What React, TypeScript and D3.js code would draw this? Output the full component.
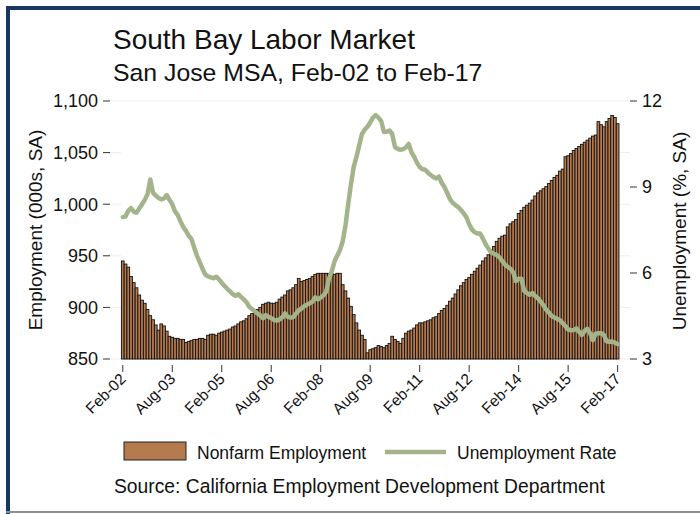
import React from 'react';
import * as d3 from 'd3';

const employment = [
  945, 942, 939, 930, 924, 919, 912, 907, 904, 898,
  892, 888, 883, 878, 884, 882, 877, 872, 871, 870,
  870, 869, 869, 866, 867, 868, 869, 869, 870, 870,
  869, 873, 874, 874, 873, 875, 876, 877, 878, 879,
  881, 882, 884, 886, 887, 889, 892, 894, 896, 898,
  900, 903, 904, 905, 904, 904, 905, 908, 910, 912,
  916, 917, 919, 922, 928, 925, 926, 927, 928, 930,
  932, 933, 933, 933, 933, 933, 933, 932, 933, 933,
  922, 916, 909, 901, 893, 885, 878, 873, 869, 856,
  859, 860, 861, 863, 862, 861, 863, 865, 872, 869,
  867, 865, 870, 875, 877, 878, 880, 883, 885, 885,
  886, 887, 888, 890, 891, 894, 897, 899, 902, 906,
  909, 913, 917, 921, 924, 927, 929, 932, 935, 938,
  941, 945, 948, 951, 956, 959, 964, 967, 969, 970,
  978, 981, 983, 985, 991, 994, 997, 999, 1001, 1004,
  1008, 1011, 1013, 1015, 1017, 1020, 1023, 1026, 1028, 1032,
  1034, 1046, 1047, 1049, 1052, 1054, 1056, 1058, 1060, 1062,
  1064, 1066, 1067, 1080, 1077, 1075, 1080, 1083, 1086, 1084,
  1078,
];

const unemployment = [
  7.95, 7.97, 8.17, 8.26, 8.14, 8.10, 8.25, 8.40, 8.55, 8.75,
  9.26, 8.80, 8.70, 8.62, 8.57, 8.60, 8.72, 8.55, 8.40, 8.15,
  8.02, 7.80, 7.60, 7.47, 7.30, 7.18, 6.88, 6.60, 6.38, 6.15,
  5.95, 5.88, 5.85, 5.82, 5.87, 5.78, 5.66, 5.55, 5.45, 5.36,
  5.26, 5.20, 5.26, 5.17, 5.08, 4.98, 4.82, 4.74, 4.67, 4.59,
  4.52, 4.42, 4.53, 4.47, 4.43, 4.36, 4.34, 4.38, 4.45, 4.59,
  4.47, 4.45, 4.46, 4.58, 4.70, 4.76, 4.84, 4.90, 4.94, 5.00,
  5.15, 5.08, 5.14, 5.22, 5.35, 5.80, 6.05, 6.40, 6.60, 6.80,
  7.10, 7.65, 8.40, 9.10, 9.70, 10.05, 10.45, 10.85, 11.00, 11.10,
  11.25, 11.42, 11.51, 11.42, 11.30, 10.92, 10.93, 10.97, 10.85, 10.40,
  10.33, 10.30, 10.32, 10.38, 10.50, 10.22, 10.05, 9.85, 9.70, 9.62,
  9.60, 9.50, 9.42, 9.35, 9.30, 9.36, 9.15, 9.00, 8.80, 8.58,
  8.45, 8.37, 8.30, 8.20, 8.08, 7.95, 7.70, 7.52, 7.42, 7.38,
  7.38, 7.20, 7.00, 6.85, 6.72, 6.67, 6.63, 6.55, 6.42, 6.30,
  6.22, 6.15, 6.03, 5.72, 5.80, 5.80, 5.38, 5.30, 5.24, 5.30,
  5.20, 5.12, 5.00, 4.88, 4.72, 4.62, 4.50, 4.45, 4.40, 4.35,
  4.25, 4.15, 4.03, 4.00, 4.01, 4.07, 3.95, 3.84, 3.98, 4.05,
  3.90, 3.66, 3.88, 3.90, 3.90, 3.84, 3.62, 3.60, 3.61, 3.57,
  3.52,
];

const xTickLabels = ['Feb-02', 'Aug-03', 'Feb-05', 'Aug-06', 'Feb-08', 'Aug-09', 'Feb-11', 'Aug-12', 'Feb-14', 'Aug-15', 'Feb-17'];
const leftTicks = [850, 900, 950, 1000, 1050, 1100];
const rightTicks = [3, 6, 9, 12];

const months = d3.timeMonth
  .range(new Date(2002, 1, 1), new Date(2017, 2, 1))
  .map((d) => d3.timeFormat('%b-%y')(d));

const FONT = "'Liberation Sans', Arial, Helvetica, sans-serif";
const BAR_FILL = '#b67a4f';
const LINE_COLOR = '#a3b48b';
const NAVY = '#17375e';

export default function App() {
  const W = 700;
  const H = 514;
  const x = d3.scaleBand<string>().domain(months).range([121.4, 619]).padding(0);
  const bw = x.bandwidth();
  const cx = (i: number) => (x(months[i]) as number) + bw / 2;
  const yL = d3.scaleLinear().domain([850, 1100]).range([359, 101]);
  const yR = d3.scaleLinear().domain([3, 12]).range([359, 101]);
  const line = d3
    .line<number>()
    .x((_, i) => cx(i))
    .y((d) => yR(d))
    .curve(d3.curveLinear);

  const plotL = 110;
  const plotR = 630;

  return (
    <svg
      width={W}
      height={H}
      style={{ position: 'absolute', left: 0, top: 0, background: '#fff' }}
      fontFamily={FONT}
    >
      <rect x={0} y={0} width={W} height={H} fill="#fff" />
      {/* frame */}
      <rect x={6} y={6} width={W - 6} height={4} fill={NAVY} />
      <rect x={6} y={6} width={4} height={H - 6} fill={NAVY} />
      <rect x={6} y={511} width={W - 6} height={2} fill="#8d9197" />

      {/* titles */}
      <text x={113} y={49} fontSize={28} fill="#111">South Bay Labor Market</text>
      <text x={113} y={81} fontSize={24.8} fill="#111">San Jose MSA, Feb-02 to Feb-17</text>

      {/* faint grid */}
      <line x1={plotL} x2={plotR} y1={yL(1100)} y2={yL(1100)} stroke="#e9eef1" strokeWidth={1} />
      {leftTicks.slice(0, 5).map((t) => (
        <g key={'g' + t}>
          <line x1={plotL} x2={121} y1={yL(t)} y2={yL(t)} stroke="#e9eef1" strokeWidth={1} />
          <line x1={619} x2={plotR} y1={yL(t)} y2={yL(t)} stroke="#e9eef1" strokeWidth={1} />
        </g>
      ))}

      {/* bars */}
      {employment.map((v, i) => (
        <rect
          key={i}
          x={x(months[i]) as number}
          y={yL(v)}
          width={bw}
          height={yL(850) - yL(v)}
          fill={BAR_FILL}
          stroke="#111"
          strokeWidth={0.9}
        />
      ))}

      {/* unemployment line */}
      <path
        d={line(unemployment) || ''}
        fill="none"
        stroke={LINE_COLOR}
        strokeWidth={4.5}
        strokeLinejoin="round"
        strokeLinecap="round"
      />

      {/* left axis */}
      {leftTicks.map((t) => (
        <g key={'l' + t}>
          <line x1={103} x2={110} y1={yL(t)} y2={yL(t)} stroke="#333" strokeWidth={1} />
          <text x={98} y={yL(t)} dy="0.35em" textAnchor="end" fontSize={18} fill="#111">
            {d3.format(',')(t)}
          </text>
        </g>
      ))}
      <text
        transform={`translate(42,230) rotate(-90)`}
        textAnchor="middle"
        fontSize={19}
        fill="#111"
      >
        Employment (000s, SA)
      </text>

      {/* right axis */}
      {rightTicks.map((t) => (
        <g key={'r' + t}>
          <line x1={630} x2={637} y1={yR(t)} y2={yR(t)} stroke="#333" strokeWidth={1} />
          <text x={642} y={yR(t)} dy="0.35em" textAnchor="start" fontSize={18} fill="#111">
            {t}
          </text>
        </g>
      ))}
      <text
        transform={`translate(686,231) rotate(-90)`}
        textAnchor="middle"
        fontSize={19}
        fill="#111"
      >
        Unemployment (%, SA)
      </text>

      {/* x axis */}
      {xTickLabels.map((lab, k) => {
        const px = cx(k * 18);
        return (
          <g key={'x' + lab}>
            <line x1={px} x2={px} y1={365} y2={372} stroke="#333" strokeWidth={1} />
            <text
              transform={`translate(${px + 4},380) rotate(-45)`}
              textAnchor="end"
              fontSize={15.5}
              fill="#111"
            >
              {lab}
            </text>
          </g>
        );
      })}

      {/* legend */}
      <rect x={124} y={442} width={62} height={18} fill={BAR_FILL} stroke="#222" strokeWidth={1} />
      <text x={197} y={459} fontSize={17.5} fill="#111">Nonfarm Employment</text>
      <line x1={385} x2={446} y1={452} y2={452} stroke={LINE_COLOR} strokeWidth={4.5} />
      <text x={457} y={459} fontSize={17.5} fill="#111">Unemployment Rate</text>

      <text x={114} y={493} fontSize={19.3} fill="#111">
        Source: California Employment Development Department
      </text>
    </svg>
  );
}
